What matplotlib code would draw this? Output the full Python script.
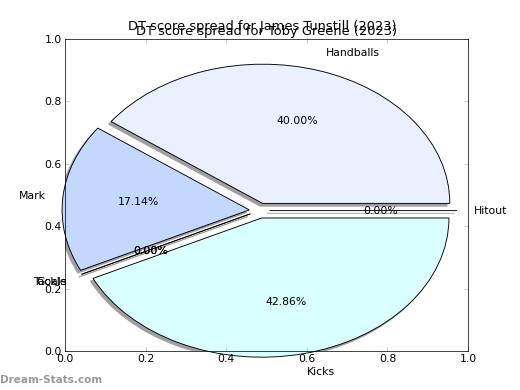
import matplotlib
matplotlib.use("Agg")
import matplotlib.pyplot as plt
import matplotlib.patches as mpatches
import matplotlib.transforms as mtransforms
import numpy as np

labels = ['Handballs', 'Mark', 'Tackle', 'Goals', 'Kicks', 'Hitout']
values = [14, 6, 0, 0, 15, 0]
colors = ['#eaf0ff', '#c4d8ff', '#e0e0ff', '#e0e0ff', '#d9ffff', '#ffe0e0']
explode = [0.025] * len(values)
player_a = "James Tunstill"
player_b = "Toby Greene"
year = 2023

plt.rcParams['font.size'] = 12
fig = plt.figure(figsize=(8, 6), dpi=65)
ax = fig.add_axes([0.125, 0.1, 0.775, 0.8])

cx, cy = 0.4825, 0.45
wedges, texts, autotexts = ax.pie(values, labels=labels, colors=colors, explode=explode,
                                  autopct='%1.2f%%', center=(cx, cy), radius=0.46,
                                  startangle=0, frame=True,
                                  wedgeprops={'edgecolor': 'black', 'linewidth': 1})

# the original pie is a touch flatter than round in data units
squash = mtransforms.Affine2D().translate(-cx, -cy).scale(1.01, 0.97).translate(cx, cy)
shift = mtransforms.ScaledTranslation(-3 / 72, -3 / 72, fig.dpi_scale_trans)
for w in wedges:
    w.set_transform(squash + ax.transData)
    s = mpatches.Wedge(w.center, w.r, w.theta1, w.theta2, facecolor='#a0a0a0',
                       edgecolor='#a0a0a0', linewidth=1, zorder=w.get_zorder() - 0.1,
                       transform=squash + ax.transData + shift)
    ax.add_patch(s)

# label alignment relative to the wedge centre
for w, t in zip(wedges, texts):
    ang = np.deg2rad((w.theta1 + w.theta2) / 2)
    t.set_ha('left' if np.cos(ang) > 0 else 'right')

ax.set_xlim(0, 1)
ax.set_ylim(0, 1)
ax.set_aspect('auto')
ticks = [0, 0.2, 0.4, 0.6, 0.8, 1.0]
ax.set_xticks(ticks)
ax.set_yticks(ticks)
ax.set_xticklabels([f'{t:.1f}' for t in ticks])
ax.set_yticklabels([f'{t:.1f}' for t in ticks])
ax.tick_params(direction='in', top=True, right=True, length=4, color='#bbbbbb', labelsize=12)

ax.set_title(f"DT score spread for {player_b} ({year})", fontsize=14.4, pad=4)
fig.text(0.505, 0.931, f"DT score spread for {player_a} ({year})", ha='center', va='center', fontsize=14.4)
fig.text(0.0, 0.025, "Dream-Stats.com", color='#999999', fontsize=11.5, fontweight='bold', ha='left', va='center')

fig.savefig("out.png", dpi=65)
